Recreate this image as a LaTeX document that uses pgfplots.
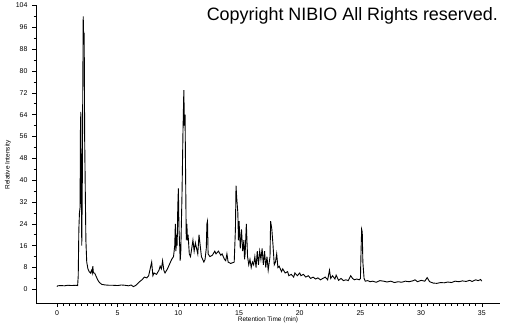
\documentclass[border=0pt]{standalone}
\usepackage{pgfplots}
\pgfplotsset{compat=1.18}
\usepackage{fontspec}
\setmainfont{Liberation Sans}
\begin{document}
\begin{tikzpicture}[x=1bp,y=1bp]
\useasboundingbox (0,0) rectangle (505,325);
\begin{axis}[
  at={(36bp,22bp)}, anchor=south west,
  scale only axis, width=464bp, height=298bp,
  xmin=-1.73, xmax=36.5, ymin=-5, ymax=104.2,
  axis x line*=bottom, axis y line*=left,
  axis line style={line width=0.8bp,-},
  xtick={0,5,...,35}, ytick={0,8,...,104},
  minor x tick num=9, minor y tick num=1,
  tick align=outside,
  major tick length=4bp, minor tick length=2.5bp,
  tick style={line width=0.6bp,black},
  /pgf/number format/assume math mode=true,
  ticklabel style={font=\fontsize{7}{8}\selectfont},
  yticklabel style={xshift=-1bp},
  clip=false,
]
\addplot[black, line width=0.9bp] table {
0 1.0
0.05 1.3
0.3 1.4
0.6 1.3
0.9 1.5
1.2 1.4
1.5 1.5
1.7 1.4
1.75 5
1.8 22
1.85 28
1.9 30
1.93 58
1.96 65
2.0 40
2.04 16
2.08 35
2.12 70
2.16 100
2.2 92
2.24 94
2.28 55
2.32 40
2.38 18
2.45 10
2.55 7.5
2.65 6.5
2.75 6
2.85 7
2.9 6
2.95 8.5
3.0 6
3.1 6
3.2 5
3.35 3.5
3.5 2.5
3.7 1.8
4.0 1.6
4.3 1.5
4.6 1.5
5.0 1.4
5.3 1.6
5.6 1.5
5.9 1.3
6.1 1.6
6.3 1.0
6.5 1.5
6.8 2.8
7.0 3.5
7.2 4.5
7.4 4.2
7.55 5
7.7 8
7.8 10
7.9 5
8.0 6
8.2 5.5
8.4 7
8.5 8.5
8.6 7.5
8.7 10.5
8.8 7
8.9 6
9.1 7.5
9.3 9.5
9.45 11
9.6 12
9.7 16
9.75 24
9.8 14
9.85 20
9.9 16
9.95 30
10.0 37
10.05 22
10.1 17
10.15 10.5
10.2 14
10.3 35
10.38 58
10.45 73
10.5 60
10.55 64
10.6 40
10.65 18
10.7 24
10.75 18
10.8 20
10.9 13
11.0 12
11.1 15
11.2 18
11.3 14
11.4 17
11.5 15
11.6 13
11.7 20
11.8 16
11.9 12
12.0 11
12.1 10
12.2 11
12.3 15
12.35 24
12.4 25
12.45 13
12.6 12
12.8 12.5
13.0 14
13.1 13
13.3 14
13.5 12.5
13.6 13
13.8 11
13.9 10.5
14.0 13
14.1 10
14.3 9.5
14.5 9.8
14.6 10
14.7 22
14.75 38
14.8 34
14.9 28
14.95 18
15.0 25
15.1 15
15.2 22
15.3 14
15.4 18
15.45 11
15.5 13
15.6 24
15.7 12
15.8 9
15.9 11
16.0 8
16.1 10
16.2 9
16.3 12
16.4 8
16.5 14
16.6 9
16.7 14
16.8 11
16.9 15
17.0 9
17.1 14
17.2 8
17.3 12
17.4 7
17.55 12
17.6 25
17.7 22
17.8 16
17.9 9
18.0 10
18.1 13
18.2 8
18.3 8.5
18.5 6.5
18.6 7.5
18.8 6
19.0 6.5
19.1 5
19.3 5.5
19.5 4.5
19.6 6
19.8 5
20.0 6
20.1 5
20.3 5.5
20.5 4.5
20.7 5
20.9 4
21.1 4.5
21.3 3.8
21.5 4.2
21.7 3.5
21.9 4
22.1 4.5
22.3 3.5
22.45 7
22.55 4
22.7 5
22.9 3.8
23.0 5.2
23.2 3.3
23.4 4
23.6 3.2
23.8 3.5
24.0 3.2
24.2 5
24.35 4
24.5 3.5
24.7 3.8
24.9 3.5
25.0 4
25.05 14
25.1 22
25.15 21
25.2 10
25.3 4
25.4 3
25.6 3.2
25.8 2.8
26.0 3
26.3 2.6
26.6 3.2
26.9 3
27.2 2.7
27.5 3
27.8 2.5
28.1 2.8
28.4 2.6
28.7 3
29.0 2.8
29.3 3.1
29.5 3.5
29.7 2.8
30.0 3.3
30.3 3
30.5 4.3
30.7 2.8
31.0 2.3
31.3 2.2
31.6 2.5
31.9 2.4
32.2 2.7
32.5 2.5
32.8 3
33.1 2.8
33.4 3.1
33.7 2.9
34.0 3.3
34.2 2.9
34.5 3.5
34.7 3.2
34.9 3.6
35.0 3.0
};
\end{axis}
\node[anchor=base east, font=\fontsize{18}{20}\selectfont, inner sep=0pt] at (498,305) {Copyright NIBIO All Rights reserved.};
\node[rotate=90, font=\fontsize{6.5}{7}\selectfont, inner sep=0pt] at (8,160) {Relative Intensity};
\node[font=\fontsize{6.5}{7}\selectfont, inner sep=0pt] at (268,5) {Retention Time (min)};
\end{tikzpicture}
\end{document}
